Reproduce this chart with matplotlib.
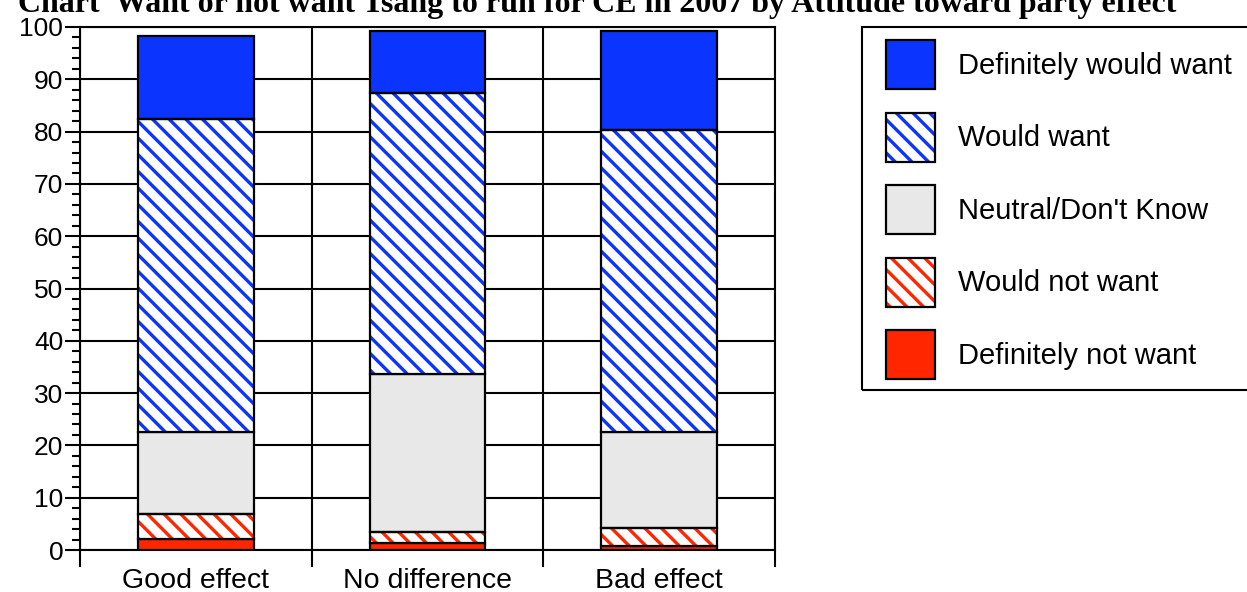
import numpy as np
import matplotlib
matplotlib.use('Agg')
import matplotlib.pyplot as plt
from matplotlib.patches import Patch, Rectangle
from matplotlib.ticker import MultipleLocator, FixedLocator

categories = ['Good effect', 'No difference', 'Bad effect']
series = ['Definitely not want', 'Would not want', 'Neutral/Don\'t Know', 'Would want', 'Definitely would want']
def_not = [2.1, 1.3, 0.8]
would_not = [4.7, 2.2, 3.5]
neutral = [15.7, 30.1, 18.3]
would = [60.0, 53.8, 57.8]
def_would = [15.8, 11.8, 18.8]

values = [def_not, would_not, neutral, would, def_would]
blue = '#0c34ff'
red = '#ff2600'
gray = '#e8e8e8'
# (facecolor, hatch colour, hatch)
styles = [(red, None, None), ('white', red, '\\\\'), (gray, None, None),
          ('white', blue, '\\\\'), (blue, None, None)]

plt.rcParams['font.family'] = ['Liberation Sans', 'DejaVu Sans']
plt.rcParams['hatch.linewidth'] = 2.4

W, H = 1247, 592
fig = plt.figure(figsize=(W / 100, H / 100), dpi=100)
ax = fig.add_axes([80 / W, 1 - 550 / H, 695 / W, 523 / H])

x = np.arange(len(categories))
bottom = np.zeros(len(categories))
handles = {}
for name, vals, (fc, hc, hatch) in zip(series, values, styles):
    vals = np.array(vals)
    if hatch:
        ax.bar(x, vals, 0.5, bottom=bottom, color=fc, edgecolor=hc, hatch=hatch, linewidth=0, zorder=3)
        ax.bar(x, vals, 0.5, bottom=bottom, fill=False, edgecolor='black', linewidth=1.6, zorder=4)
        h = (Patch(facecolor=fc, edgecolor=hc, hatch=hatch, linewidth=0),
             Patch(fill=False, edgecolor='black', linewidth=1.6))
    else:
        ax.bar(x, vals, 0.5, bottom=bottom, color=fc, edgecolor='black', linewidth=1.6, zorder=3)
        h = Patch(facecolor=fc, edgecolor='black', linewidth=1.6)
    handles[name] = h
    bottom += vals

ax.set_xlim(-0.5, 2.5)
ax.set_ylim(0, 100)

ax.yaxis.set_major_locator(MultipleLocator(10))
ax.yaxis.set_minor_locator(MultipleLocator(2))
ax.tick_params(axis='y', which='major', length=11, width=1.5, direction='out', labelsize=19, pad=1)
ax.tick_params(axis='y', which='minor', length=6, width=1.5, direction='out')

ax.xaxis.set_major_locator(FixedLocator([-0.5, 0.5, 1.5, 2.5]))
ax.xaxis.set_minor_locator(FixedLocator(x))
ax.set_xticklabels([], minor=False)
ax.set_xticklabels(categories, minor=True, fontsize=20.5)
ax.tick_params(axis='x', which='major', length=12, width=1.5, direction='out')
ax.tick_params(axis='x', which='minor', length=0, pad=13)

ax.grid(True, axis='y', which='major', color='black', linewidth=1.5, zorder=1)
ax.grid(True, axis='x', which='major', color='black', linewidth=1.5, zorder=1)
ax.set_axisbelow(True)
for s in ax.spines.values():
    s.set_linewidth(1.5)
    s.set_color('black')

fig.text(18 / W, 1 - 12 / H, 'Chart  Want or not want Tsang to run for CE in 2007 by Attitude toward party effect',
         fontsize=23, fontweight='bold', family='Liberation Serif', va='baseline', ha='left')

# legend frame drawn by hand, runs past the right edge like the original
fig.patches.append(Rectangle((862 / W, 1 - 390 / H), 400 / W, 363 / H, transform=fig.transFigure,
                             fill=False, edgecolor='black', linewidth=1.5))
fs = 21
hpx = 49 / (fs * 100 / 72)
order = series[::-1]
leg = fig.legend([handles[n] for n in order], order, loc='upper left',
                 bbox_to_anchor=(886 / W, 1 - 40 / H), fontsize=fs,
                 handlelength=hpx, handleheight=(hpx - 0.245) / 0.65, labelspacing=23.5 / (fs * 100 / 72),
                 handletextpad=0.8, borderpad=0, borderaxespad=0, frameon=False)

fig.savefig('out.png', dpi=100)
